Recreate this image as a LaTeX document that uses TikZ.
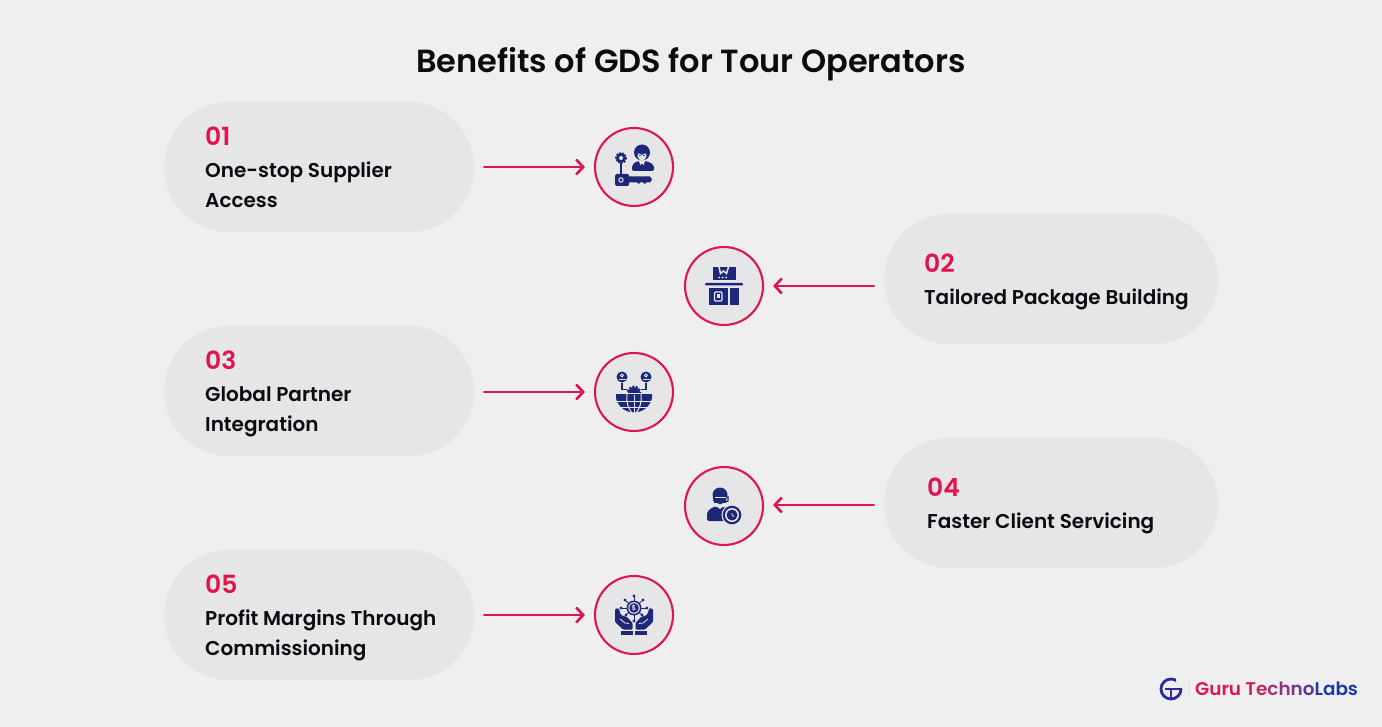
\documentclass[tikz,border=0pt]{standalone}
\usepackage{fontspec}
\setmainfont{Poppins}[BoldFont={Poppins SemiBold}]
\definecolor{bgc}{HTML}{EFEFF0}
\definecolor{pillc}{HTML}{E6E6E8}
\definecolor{crim}{HTML}{E0144F}
\definecolor{navy}{HTML}{1E2878}
\definecolor{ink}{HTML}{0B0B10}
\tikzset{
  pill/.style={rectangle,rounded corners=65pt,fill=pillc,minimum height=130pt,inner sep=0pt},
  ring/.style={circle,draw=crim,line width=2.1pt,fill=pillc,minimum size=78pt,inner sep=0pt},
  numtxt/.style={anchor=base west,inner sep=0pt,text=crim,font=\fontsize{25}{25}\selectfont\bfseries},
  labtxt/.style={anchor=base west,inner sep=0pt,text=ink,font=\fontsize{20}{20}\selectfont\bfseries},
  link/.style={draw=crim,line width=2.6pt,line cap=round,-{Straight Barb[length=7pt,width=15pt,line width=2.6pt]}},
  ic/.style={fill=navy,draw=none},
  icl/.style={draw=navy,line width=1.5pt},
  iw/.style={draw=pillc,line width=1pt},
}
\usetikzlibrary{arrows.meta}
\begin{document}
\begin{tikzpicture}[x=1pt,y=-1pt]
\path[use as bounding box,fill=bgc] (0,0) rectangle (1382,727);
\node[anchor=base,inner sep=0pt,text=ink,font=\fontsize{32}{32}\selectfont\bfseries] (title) at (691,73) {Benefits of GDS for Tour Operators};
% pills
\node[pill,minimum width=310pt] (p1) at (319,167) {};
\node[pill,minimum width=334pt] (p2) at (1051,279) {};
\node[pill,minimum width=310pt] (p3) at (319,391) {};
\node[pill,minimum width=334pt] (p4) at (1051,503) {};
\node[pill,minimum width=310pt] (p5) at (319,615) {};
% circles
\node[ring] (c1) at (634,167) {};
\node[ring] (c2) at (724,286) {};
\node[ring] (c3) at (634,392) {};
\node[ring] (c4) at (724,506) {};
\node[ring] (c5) at (634,615) {};
% connectors
\coordinate (a1) at (p1.east |- c1);
\coordinate (a2) at (p2.west |- c2);
\coordinate (a3) at (p3.east |- c3);
\coordinate (a4) at (p4.west |- c4);
\coordinate (a5) at (p5.east |- c5);
\draw[link,shorten <=10pt,shorten >=9pt] (a1) -- (c1.west);
\draw[link,shorten <=10pt,shorten >=9pt] (a2) -- (c2.east);
\draw[link,shorten <=10pt,shorten >=9pt] (a3) -- (c3.west);
\draw[link,shorten <=10pt,shorten >=9pt] ([yshift=1pt]a4) -- ([yshift=1pt]c4.east);
\draw[link,shorten <=10pt,shorten >=9pt] (a5) -- (c5.west);
% labels
\node[numtxt] (n1) at (205,146) {01};
\node[labtxt] (t1a) at (205,178) {One-stop Supplier};
\node[labtxt] (t1b) at (205,208) {Access};
\node[numtxt] (n2) at (924,273) {02};
\node[labtxt] (t2) at (924,305) {Tailored Package Building};
\node[numtxt] (n3) at (205,370) {03};
\node[labtxt] (t3a) at (205,402) {Global Partner};
\node[labtxt] (t3b) at (205,431.5) {Integration};
\node[numtxt] (n4) at (927,496) {04};
\node[labtxt] (t4) at (927,528.5) {Faster Client Servicing};
\node[numtxt] (n5) at (205,593.5) {05};
\node[labtxt] (t5a) at (205,625.5) {Profit Margins Through};
\node[labtxt] (t5b) at (205,655.5) {Commissioning};
% icon 1
\begin{scope}[shift={(c1)}]
  \draw[navy,line width=2pt,dash pattern=on 1.6pt off 1.4pt] (-13,-9) circle (5);
  \fill[navy] (-13,-9) circle (5);
  \fill[pillc] (-13,-9) circle (2);
  \draw[icl] (-13,-4) -- (-13,8);
  \fill[ic,rounded corners=1.5pt] (-19,7) rectangle (-5,19);
  \fill[ic] (-6,9.5) -- (16,9.5) -- (18,12.5) -- (16,15.5) -- (12,15.5) -- (11,17) -- (9,15.5) -- (6,15.5) -- (5,17) -- (3,15.5) -- (-6,15.5) -- cycle;
  \draw[pillc,line width=1pt] (-13,13) circle (2.2);
  \fill[navy] (8,-14.5) circle (8);
  \fill[pillc] (8,-12) .. controls (4,-15) and (3,-13) .. (3.5,-11) .. controls (4,-5) and (12,-5) .. (12.5,-11) .. controls (13,-13) and (12,-15) .. (8,-12) -- cycle;
  \fill[navy] (6,-11.5) circle (.8) (10,-11.5) circle (.8);
  \fill[ic,rounded corners=2pt] (-2,4) -- (-2,-2) -- (3,-6) -- (13,-6) -- (20,-2) -- (20,4) -- cycle;
  \fill[pillc] (4.5,-6.5) -- (11.5,-6.5) -- (8,1) -- cycle;
  \draw[navy,line width=1.4pt] (8,-3) -- (8,4);
\end{scope}
% icon 2
\begin{scope}[shift={(c2)}]
  \fill[ic] (-11.5,-18.5) rectangle (12,-5.5);
  \draw[pillc,line width=1.5pt] (-5,-19) -- (-3.5,-12.5) -- (-0.5,-15) -- (2.5,-12.5) -- (4.5,-19);
  \fill[pillc] (-5,-8.5) circle (1) (-1.5,-8.5) circle (1) (2,-8.5) circle (1);
  \fill[ic,rounded corners=1pt] (-19,-3) rectangle (19,-0.5);
  \fill[ic] (-15,2) rectangle (3.5,19);
  \fill[ic] (6,2) rectangle (15,19);
  \draw[pillc,line width=1.2pt,rounded corners=1pt] (-9.5,6) rectangle (-2,15);
  \fill[pillc] (-7,8.5) rectangle (-4.5,12.5);
\end{scope}
% icon 3
\begin{scope}[shift={(c3)}]
  \foreach \s in {-1,1}{
    \fill[navy] (\s*12,-15) circle (5.5);
    \draw[pillc,line width=.9pt] (\s*12,-16.5) circle (1.6);
    \draw[pillc,line width=.9pt] (\s*15,-11.6) -- (\s*15,-13) -- (\s*9,-13) -- (\s*9,-11.6);
    \draw[navy,line width=1.2pt] (\s*12,-9) -- (\s*12,-2.5) -- (\s*7,-2.5);
  }
  \draw[navy,line width=1.8pt,dash pattern=on 2pt off 1.6pt] (0,1) circle (6.5);
  \fill[navy] (0,1) circle (6);
  \fill[pillc] (-9,1) rectangle (9,4);
  \begin{scope}
    \clip (-18,2) rectangle (18,22);
    \fill[navy] (0,2) circle (18.5);
  \end{scope}
  \draw[iw] (0,3) -- (0,21) (-18,9) -- (18,9) (-15,15) -- (15,15);
  \draw[iw] (-7,2) .. controls (-8,10) and (-6,16) .. (-2,21);
  \draw[iw] (7,2) .. controls (8,10) and (6,16) .. (2,21);
\end{scope}
% icon 4
\begin{scope}[shift={(c4)}]
  \fill[navy] (-4,-11) circle (7.5);
  \fill[navy] (-10,-9) rectangle (2,-3);
  \fill[navy] (-8.5,-7) .. controls (-8.5,0) and (0.5,0) .. (1,-7) -- cycle;
  \draw[pillc,line width=1pt] (-9.5,-8.5) -- (2,-8.5);
  \fill[navy] (-11.5,-10) rectangle (-9,-5.5);
  \draw[navy,line width=1.3pt] (4,-10) -- (4,-5) -- (-1,-3.5);
  \fill[ic,rounded corners=2pt] (-17,15) -- (-17,6) -- (-13,2) -- (-7,0) -- (-4,4) -- (-1,0) -- (3,2) -- (5,15) -- cycle;
  \fill[pillc] (8,9) circle (10.5);
  \fill[navy] (8,9) circle (9.3);
  \fill[pillc] (8,9) circle (7);
  \fill[navy] (8,9) circle (5.5);
  \draw[pillc,line width=.8pt] (8,7) -- (8,9) -- (10,10.5);
\end{scope}
% icon 5
\begin{scope}[shift={(c5)}]
  \foreach \a/\b in {0/-19,-9/-15,9/-15,-13/-7,13/-7,-8/0,8/0,0/6}{
    \draw[navy,line width=.8pt] (0,-7) -- (\a,\b);
    \fill[navy] (\a,\b) circle (1.6);
  }
  \fill[navy] (0,-7) circle (7.5);
  \fill[pillc] (0,-7) circle (5.8);
  \fill[navy] (0,-7) circle (4.8);
  \node[inner sep=0pt,text=pillc,font=\fontsize{7}{7}\selectfont\bfseries] (dollar) at (0,-7) {\$};
  \foreach \s in {-1,1}{
    \begin{scope}[xscale=\s]
      \fill[ic,rounded corners=1pt] (-19,-6) -- (-15.5,-7) -- (-13,0) -- (-7,2) -- (-1.5,8) -- (-1.5,14.5) -- (-11,14.5) -- (-19,7) -- cycle;
      \fill[ic] (-13,15.5) rectangle (-1,20);
      \draw[pillc,line width=.8pt] (-14,4) -- (-9,8) -- (-5,8.5);
    \end{scope}
  }
\end{scope}
% logo
\begin{scope}
  \clip (1155,675) rectangle (1176,703) (1176,689) rectangle (1190,703);
  \draw[color={rgb,255:red,38;green,44;blue,160},line width=2.8pt] (1171,689) circle (10);
\end{scope}
\draw[color={rgb,255:red,38;green,44;blue,160},line width=2.2pt] (1165,689) -- (1182,689);
\draw[color={rgb,255:red,70;green,40;blue,150},line width=2.2pt] (1171,689) -- (1171,698);
\draw[color=pillc,line width=.8pt] (1189,678) -- (1189,699);
\node[anchor=base west,inner sep=0pt,font=\fontsize{18.4}{18.4}\selectfont\bfseries] (logo) at (1195,695) {\textcolor{crim}{Guru }\textcolor[HTML]{CC1F58}{T}\textcolor[HTML]{B82868}{e}\textcolor[HTML]{A53076}{c}\textcolor[HTML]{8F3580}{h}\textcolor[HTML]{6F398C}{n}\textcolor[HTML]{523A96}{o}\textcolor[HTML]{2B3A9E}{L}\textcolor[HTML]{203AA0}{abs}};
\end{tikzpicture}
\end{document}
